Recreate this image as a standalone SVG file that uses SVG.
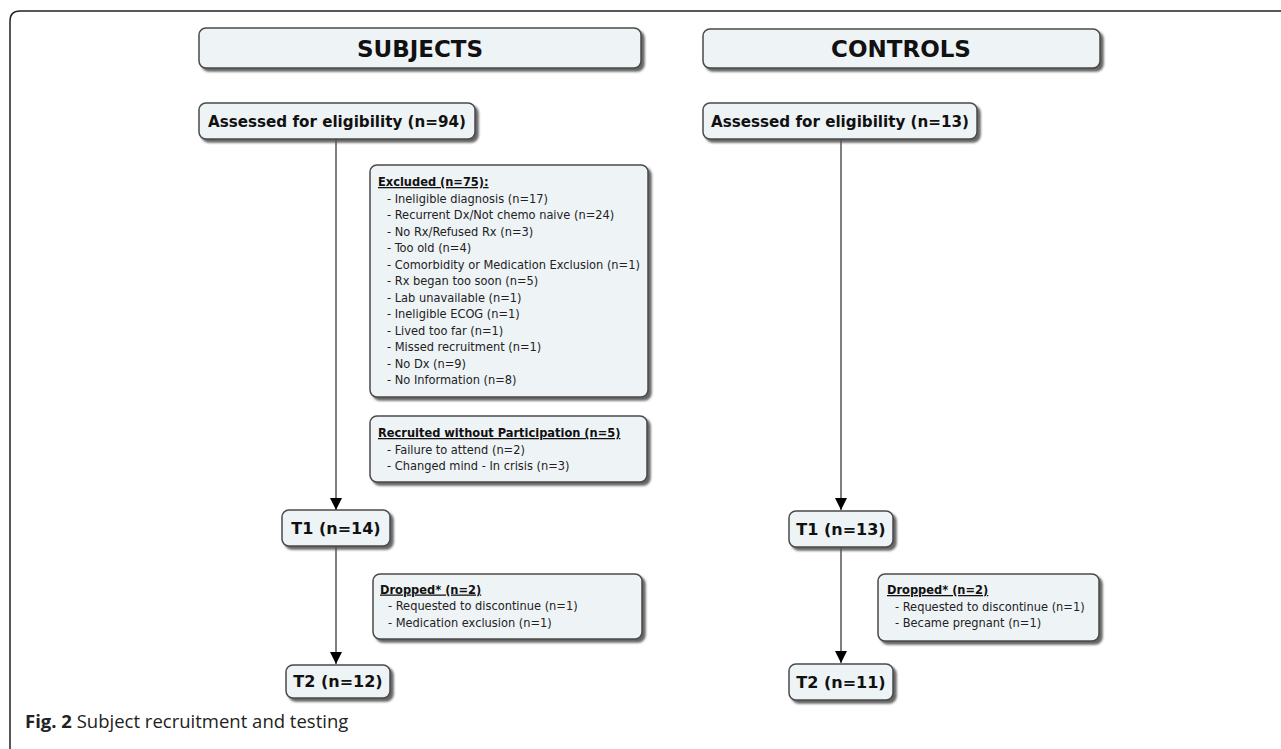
<svg xmlns="http://www.w3.org/2000/svg" width="1281" height="749" viewBox="0 0 1281 749">
<defs>
<filter id="sh" x="-10%" y="-10%" width="130%" height="140%">
<feDropShadow dx="3" dy="3" stdDeviation="0.8" flood-color="#555" flood-opacity="0.9"/>
</filter>
<marker id="ah" markerWidth="12" markerHeight="12" refX="12" refY="6" orient="auto" markerUnits="userSpaceOnUse" viewBox="0 0 12 12">
<path d="M0,0 L12,6 L0,12 Z" fill="#000"/>
</marker>
</defs>
<style>
.box{fill:#eef3f6;stroke:#4a4a4a;stroke-width:1.5;filter:url(#sh)}
.hd{font-family:"DejaVu Sans",Verdana,sans-serif;font-weight:bold;fill:#111}
.ls{font-family:"DejaVu Sans Condensed","DejaVu Sans",sans-serif;font-size:12.7px;fill:#222}
.lh{font-family:"DejaVu Sans Condensed","DejaVu Sans",sans-serif;font-size:12.7px;font-weight:bold;text-decoration:underline;fill:#111}
.conn{stroke:#555;stroke-width:1.5;fill:none}
</style>
<rect width="1281" height="749" fill="#fff"/>
<path d="M10,749 V21 Q10,11 20,11 H1281" fill="none" stroke="#222" stroke-width="1.5"/>

<g id="connectors">
<line class="conn" x1="336" y1="139" x2="336" y2="510" marker-end="url(#ah)"/>
<line class="conn" x1="336" y1="546" x2="336" y2="664" marker-end="url(#ah)"/>
<line class="conn" x1="841" y1="139" x2="841" y2="510" marker-end="url(#ah)"/>
<line class="conn" x1="841" y1="547" x2="841" y2="663" marker-end="url(#ah)"/>
</g>

<g id="subjects">
<rect class="box" x="199" y="28" width="442" height="40" rx="7"/>
<text class="hd" x="420" y="57" font-size="23" text-anchor="middle">SUBJECTS</text>
</g>
<g id="controls">
<rect class="box" x="703" y="29" width="397" height="39" rx="7"/>
<text class="hd" x="901" y="57" font-size="23" text-anchor="middle">CONTROLS</text>
</g>
<g id="assessed-subjects">
<rect class="box" x="199" y="103" width="276" height="36" rx="7"/>
<text class="hd" x="337" y="127" font-size="15" text-anchor="middle" textLength="258" lengthAdjust="spacingAndGlyphs">Assessed for eligibility (n=94)</text>
</g>
<g id="assessed-controls">
<rect class="box" x="703" y="103" width="274" height="36" rx="7"/>
<text class="hd" x="840" y="127" font-size="15" text-anchor="middle" textLength="258" lengthAdjust="spacingAndGlyphs">Assessed for eligibility (n=13)</text>
</g>

<g id="excluded">
<rect class="box" x="370" y="165" width="278" height="232" rx="7"/>
<text class="lh" x="378" y="186">Excluded (n=75):</text>
<text class="ls" x="387" y="202.5">- Ineligible diagnosis (n=17)</text>
<text class="ls" x="387" y="219">- Recurrent Dx/Not chemo naive (n=24)</text>
<text class="ls" x="387" y="235.5">- No Rx/Refused Rx (n=3)</text>
<text class="ls" x="387" y="252">- Too old (n=4)</text>
<text class="ls" x="387" y="268.5">- Comorbidity or Medication Exclusion (n=1)</text>
<text class="ls" x="387" y="285">- Rx began too soon (n=5)</text>
<text class="ls" x="387" y="301.5">- Lab unavailable (n=1)</text>
<text class="ls" x="387" y="318">- Ineligible ECOG (n=1)</text>
<text class="ls" x="387" y="334.5">- Lived too far (n=1)</text>
<text class="ls" x="387" y="351">- Missed recruitment (n=1)</text>
<text class="ls" x="387" y="367.5">- No Dx (n=9)</text>
<text class="ls" x="387" y="384">- No Information (n=8)</text>
</g>

<g id="recruited">
<rect class="box" x="370" y="416" width="277" height="66" rx="7"/>
<text class="lh" x="378" y="437">Recruited without Participation (n=5)</text>
<text class="ls" x="387" y="453.5">- Failure to attend (n=2)</text>
<text class="ls" x="387" y="470">- Changed mind - In crisis (n=3)</text>
</g>

<g id="t1-subjects">
<rect class="box" x="282" y="510" width="108" height="36" rx="7"/>
<text class="hd" x="336" y="534" font-size="16" text-anchor="middle">T1 (n=14)</text>
</g>
<g id="dropped-subjects">
<rect class="box" x="373" y="574" width="269" height="65" rx="7"/>
<text class="lh" x="380" y="593.5">Dropped* (n=2)</text>
<text class="ls" x="388" y="610">- Requested to discontinue (n=1)</text>
<text class="ls" x="388" y="626.5">- Medication exclusion (n=1)</text>
</g>
<g id="t2-subjects">
<rect class="box" x="286" y="665" width="104" height="33" rx="7"/>
<text class="hd" x="338" y="687" font-size="16" text-anchor="middle">T2 (n=12)</text>
</g>

<g id="t1-controls">
<rect class="box" x="789" y="511" width="104" height="36" rx="7"/>
<text class="hd" x="841" y="535" font-size="16" text-anchor="middle">T1 (n=13)</text>
</g>
<g id="dropped-controls">
<rect class="box" x="878" y="574" width="221" height="67" rx="7"/>
<text class="lh" x="887" y="594">Dropped* (n=2)</text>
<text class="ls" x="895" y="610.5">- Requested to discontinue (n=1)</text>
<text class="ls" x="895" y="627">- Became pregnant (n=1)</text>
</g>
<g id="t2-controls">
<rect class="box" x="789" y="664" width="104" height="36" rx="7"/>
<text class="hd" x="841" y="688" font-size="16" text-anchor="middle">T2 (n=11)</text>
</g>

<text x="25" y="728" font-family="'Open Sans','Liberation Sans',sans-serif" font-size="18.5" fill="#222"><tspan font-weight="bold">Fig. 2</tspan> Subject recruitment and testing</text>
</svg>
